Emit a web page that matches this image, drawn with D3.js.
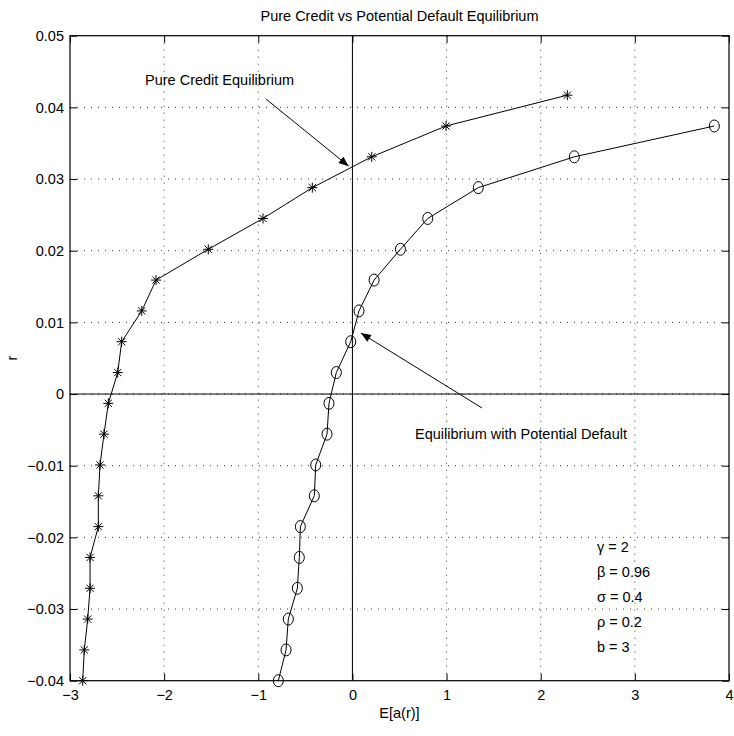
<!DOCTYPE html>
<html>
<head>
<meta charset="utf-8">
<script src="https://cdn.jsdelivr.net/npm/d3@7"></script>
<style>
    body { margin: 0; background: #fff; }
    svg { font-family: "Liberation Sans", Arial, Helvetica, sans-serif; }
</style>
</head>
<body>
<svg width="734" height="736"></svg>
<script>
// r values (y)
const rPure = [-0.0400, -0.0357, -0.0314, -0.0271, -0.0228, -0.0185, -0.0142, -0.0099, -0.0056, -0.0013,
    0.0030, 0.0073, 0.0116, 0.0159, 0.0202, 0.0245, 0.0288, 0.0331, 0.0374, 0.0417];
const eaPure = [-2.865, -2.848, -2.812, -2.787, -2.787, -2.699, -2.699, -2.681, -2.639, -2.593,
    -2.493, -2.451, -2.238, -2.086, -1.531, -0.95, -0.426, 0.205, 0.994, 2.283];

const rDefault = [-0.0400, -0.0357, -0.0314, -0.0271, -0.0228, -0.0185, -0.0142, -0.0099, -0.0056, -0.0013,
    0.0030, 0.0073, 0.0116, 0.0159, 0.0202, 0.0245, 0.0288, 0.0331, 0.0374];
const eaDefault = [-0.787, -0.705, -0.681, -0.585, -0.564, -0.553, -0.405, -0.390, -0.270, -0.249,
    -0.171, -0.018, 0.070, 0.23, 0.51, 0.80, 1.337, 2.357, 3.844];

const xTicks = [-3, -2, -1, 0, 1, 2, 3, 4];
const yTicks = [-0.04, -0.03, -0.02, -0.01, 0, 0.01, 0.02, 0.03, 0.04, 0.05];
const paramLines = ["\u03b3 = 2", "\u03b2 = 0.96", "\u03c3 = 0.4", "\u03c1 = 0.2", "b = 3"];

const margin = {left: 70, right: 5, top: 35.7, bottom: 55.3};
const W = 734, H = 736;

function createGraph() {
    const svg = d3.select("svg");
    const x = d3.scaleLinear().domain([-3, 4]).range([margin.left, W - margin.right]);
    const y = d3.scaleLinear().domain([-0.04, 0.05]).range([H - margin.bottom, margin.top]);
    const x0 = x.range()[0], x1 = x.range()[1], y0 = y.range()[0], y1 = y.range()[1];
    const fs = "14.5px";

    // dotted grid
    const grid = svg.append("g").attr("stroke", "#333").attr("stroke-width", 1)
        .attr("stroke-dasharray", "1,6");
    grid.selectAll(".gx").data(xTicks.slice(1, -1)).enter().append("line")
        .attr("x1", d => x(d)).attr("x2", d => x(d)).attr("y1", y1).attr("y2", y0);
    grid.selectAll(".gy").data(yTicks.slice(1, -1)).enter().append("line")
        .attr("x1", x0).attr("x2", x1).attr("y1", d => y(d)).attr("y2", d => y(d));

    // zero lines
    svg.append("line").attr("x1", x(0)).attr("x2", x(0)).attr("y1", y1).attr("y2", y0)
        .attr("stroke", "#000").attr("stroke-width", 1);
    svg.append("line").attr("x1", x0).attr("x2", x1).attr("y1", y(0)).attr("y2", y(0))
        .attr("stroke", "#000").attr("stroke-width", 1);

    // axes, ticks inward on all four sides
    const tl = 7;
    svg.append("g").attr("transform", `translate(0,${y0})`)
        .call(d3.axisBottom(x).tickValues(xTicks).tickSizeInner(-tl).tickSizeOuter(0).tickPadding(9)
            .tickFormat(d => d3.format("d")(d).replace("-", "\u2212")));
    svg.append("g").attr("transform", `translate(0,${y1})`)
        .call(d3.axisTop(x).tickValues(xTicks).tickSizeInner(-tl).tickSizeOuter(0).tickFormat(""));
    svg.append("g").attr("transform", `translate(${x0},0)`)
        .call(d3.axisLeft(y).tickValues(yTicks).tickSizeInner(-tl).tickSizeOuter(0).tickPadding(6)
            .tickFormat(d => (d === 0 ? "0" : d3.format(".2f")(d)).replace("-", "\u2212")));
    svg.append("g").attr("transform", `translate(${x1},0)`)
        .call(d3.axisRight(y).tickValues(yTicks).tickSizeInner(-tl).tickSizeOuter(0).tickFormat(""));
    svg.selectAll(".domain").remove();
    svg.selectAll(".tick line").attr("stroke", "#000");
    svg.selectAll(".tick text").attr("fill", "#000").style("font-size", fs)
        .style("font-family", "'Liberation Sans', Arial, sans-serif");

    svg.append("rect").attr("x", x0).attr("y", y1).attr("width", x1 - x0).attr("height", y0 - y1)
        .attr("fill", "none").attr("stroke", "#000").attr("stroke-width", 1.2);

    // series
    const line = d3.line().x(d => x(d[0])).y(d => y(d[1]));
    const pure = eaPure.map((v, i) => [v, rPure[i]]);
    const dflt = eaDefault.map((v, i) => [v, rDefault[i]]);
    svg.append("path").datum(pure).attr("d", line).attr("fill", "none").attr("stroke", "#000").attr("stroke-width", 1);
    svg.append("path").datum(dflt).attr("d", line).attr("fill", "none").attr("stroke", "#000").attr("stroke-width", 1);

    const s = 5, q = 3.6;
    const starPath = `M0,${-s}V${s}M${-s},0H${s}M${-q},${-q}L${q},${q}M${-q},${q}L${q},${-q}`;
    svg.append("g").selectAll("path").data(pure).enter().append("path")
        .attr("transform", d => `translate(${x(d[0])},${y(d[1])})`)
        .attr("d", starPath).attr("stroke", "#000").attr("stroke-width", 1).attr("fill", "none");
    svg.append("g").selectAll("ellipse").data(dflt).enter().append("ellipse")
        .attr("cx", d => x(d[0])).attr("cy", d => y(d[1])).attr("rx", 5).attr("ry", 6)
        .attr("fill", "none").attr("stroke", "#000").attr("stroke-width", 1);

    // arrows
    svg.append("defs").append("marker").attr("id", "ah").attr("viewBox", "0 0 10 8")
        .attr("refX", 10).attr("refY", 4).attr("markerWidth", 11).attr("markerHeight", 8)
        .attr("markerUnits", "userSpaceOnUse").attr("orient", "auto")
        .append("path").attr("d", "M0,0L10,4L0,8Z").attr("fill", "#000");
    svg.append("line").attr("x1", 266).attr("y1", 99).attr("x2", x(-0.04)).attr("y2", y(0.0318))
        .attr("stroke", "#000").attr("stroke-width", 1).attr("marker-end", "url(#ah)");
    svg.append("line").attr("x1", 482).attr("y1", 408).attr("x2", x(0.09)).attr("y2", y(0.0085))
        .attr("stroke", "#000").attr("stroke-width", 1).attr("marker-end", "url(#ah)");

    // texts
    svg.append("text").attr("x", (x0 + x1) / 2).attr("y", 21).attr("text-anchor", "middle")
        .style("font-size", fs).text("Pure Credit vs Potential Default Equilibrium");
    svg.append("text").attr("x", (x0 + x1) / 2).attr("y", 718).attr("text-anchor", "middle")
        .style("font-size", fs).text("E[a(r)]");
    svg.append("text").attr("transform", `translate(17,${(y0 + y1) / 2}) rotate(-90)`)
        .attr("text-anchor", "middle").style("font-size", fs).text("r");
    svg.append("text").attr("x", 145).attr("y", 85).style("font-size", fs).text("Pure Credit Equilibrium");
    svg.append("text").attr("x", 415).attr("y", 439).style("font-size", fs).text("Equilibrium with Potential Default");
    svg.append("g").selectAll("text").data(paramLines).enter().append("text")
        .attr("x", 597).attr("y", (d, i) => 552 + i * 25).style("font-size", fs).text(d => d);
}

createGraph();
</script>
</body>
</html>
